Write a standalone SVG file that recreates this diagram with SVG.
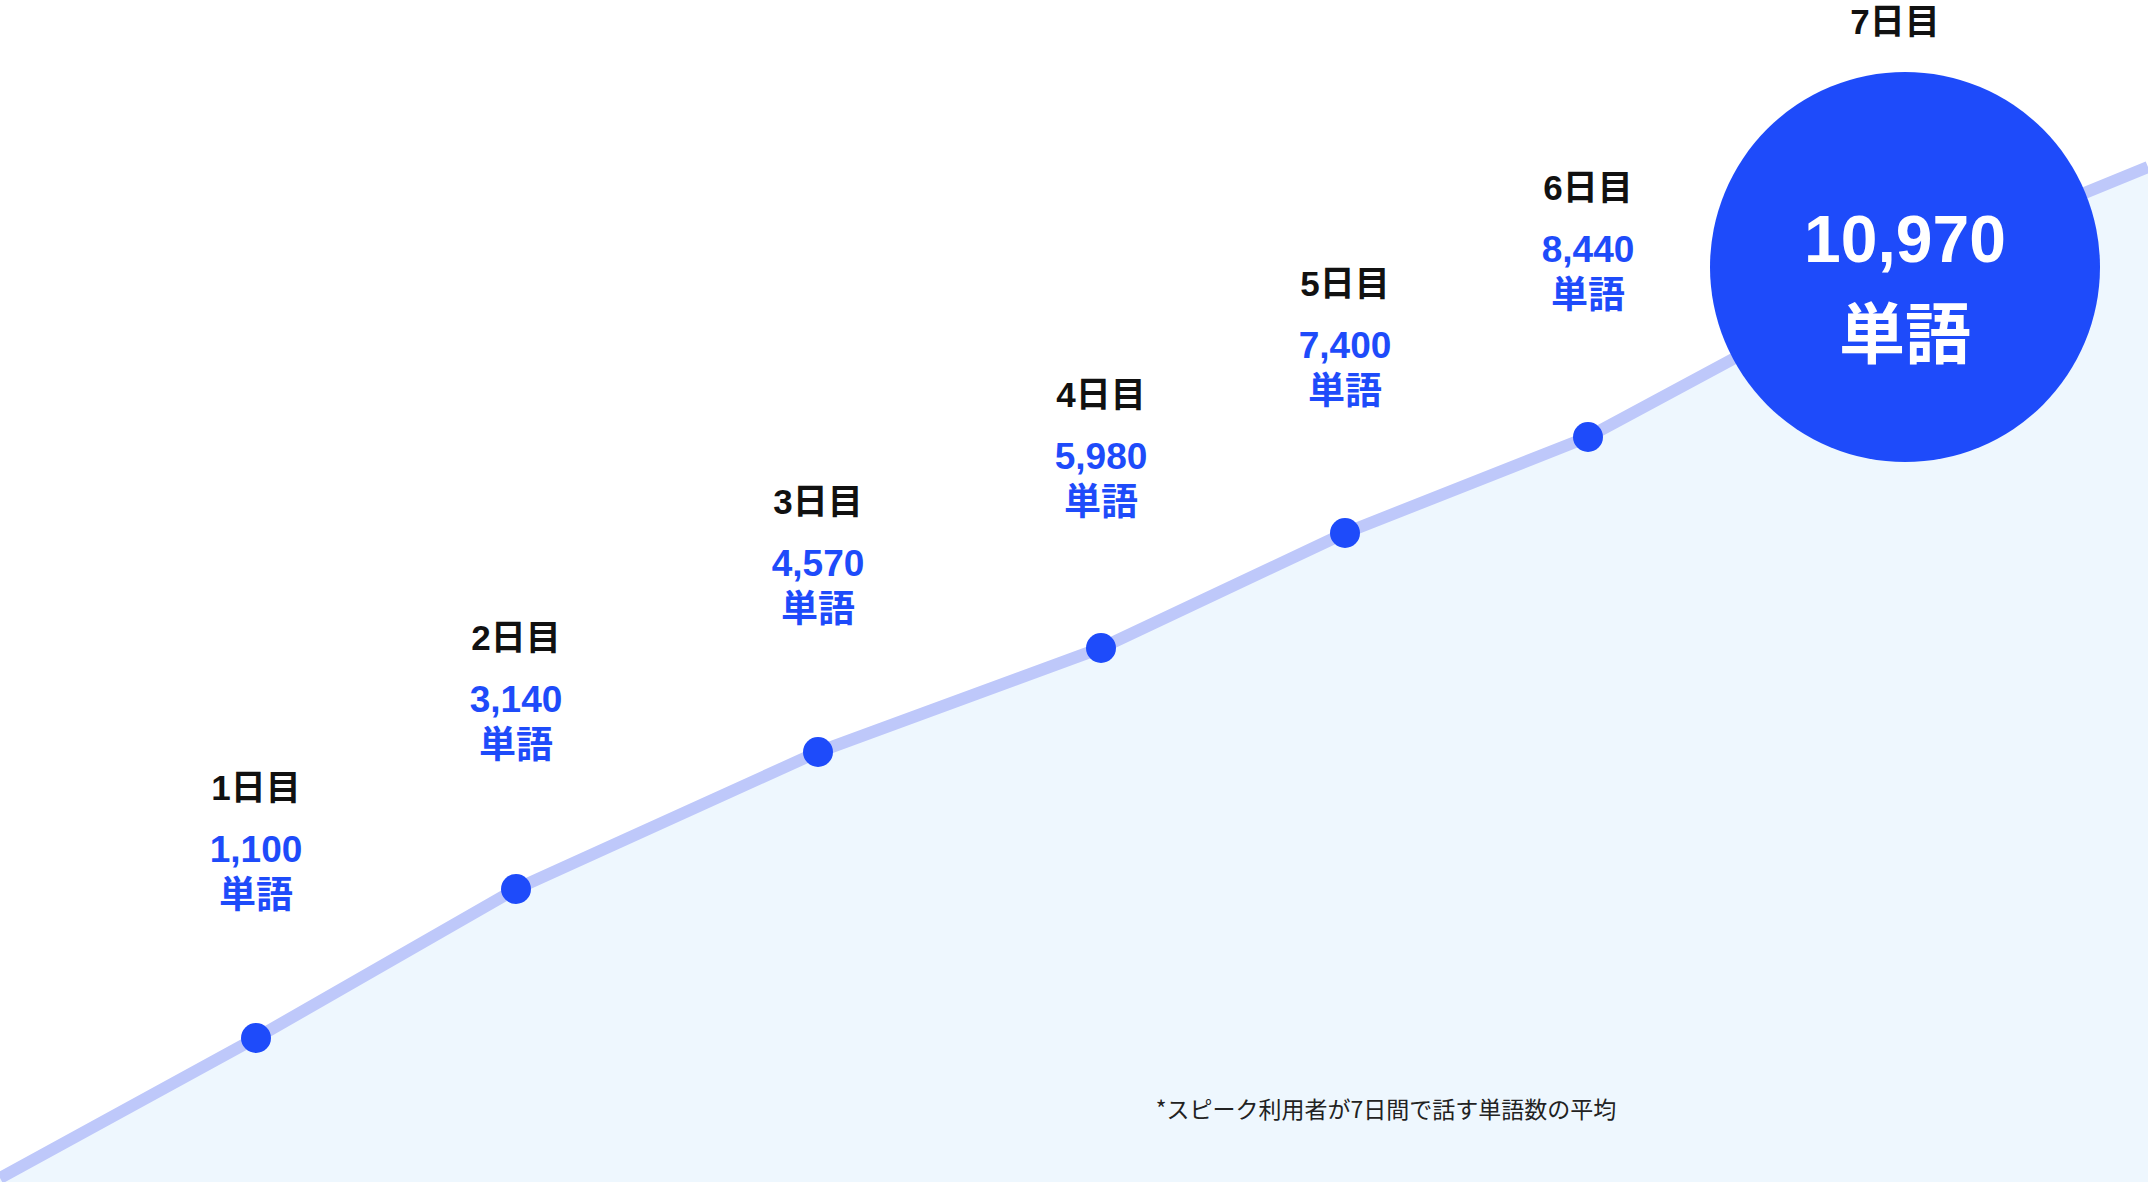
<svg xmlns="http://www.w3.org/2000/svg" width="2148" height="1182" viewBox="0 0 2148 1182">
<style>
.day{font-family:"Liberation Sans","Noto Sans CJK JP",sans-serif;font-weight:bold;font-size:35px;fill:#111;text-anchor:middle}
.num{font-family:"Liberation Sans","Noto Sans CJK JP",sans-serif;font-weight:bold;font-size:37px;fill:#1E4BFA;text-anchor:middle}
.big{font-family:"Liberation Sans","Noto Sans CJK JP",sans-serif;font-weight:bold;font-size:66px;fill:#fff;text-anchor:middle}
.dot{fill:#1E4BFA}
</style>
<rect width="2148" height="1182" fill="#fff"/>
<path d="M0,1178 L256,1038 L516,889 L818,752 L1101,648 L1345,533 L1588,437 L1904,267 L2148,167 L2148,1182 L0,1182 Z" fill="#EEF7FE"/>
<g id="connectors">
<polyline points="0,1178 256,1038 516,889 818,752 1101,648 1345,533 1588,437 1904,267 2148,167" fill="none" stroke="#BEC8FA" stroke-width="12" stroke-linejoin="round"/>
</g>
<g id="day1"><circle class="dot" cx="256" cy="1038" r="15"/><text class="day" x="256" y="800">1日目</text><text class="num" x="256" y="862">1,100</text><text class="num" x="256" y="908">単語</text></g>
<g id="day2"><circle class="dot" cx="516" cy="889" r="15"/><text class="day" x="516" y="650">2日目</text><text class="num" x="516" y="712">3,140</text><text class="num" x="516" y="758">単語</text></g>
<g id="day3"><circle class="dot" cx="818" cy="752" r="15"/><text class="day" x="818" y="514">3日目</text><text class="num" x="818" y="576">4,570</text><text class="num" x="818" y="622">単語</text></g>
<g id="day4"><circle class="dot" cx="1101" cy="648" r="15"/><text class="day" x="1101" y="407">4日目</text><text class="num" x="1101" y="469">5,980</text><text class="num" x="1101" y="515">単語</text></g>
<g id="day5"><circle class="dot" cx="1345" cy="533" r="15"/><text class="day" x="1345" y="296">5日目</text><text class="num" x="1345" y="358">7,400</text><text class="num" x="1345" y="404">単語</text></g>
<g id="day6"><circle class="dot" cx="1588" cy="437" r="15"/><text class="day" x="1588" y="200">6日目</text><text class="num" x="1588" y="262">8,440</text><text class="num" x="1588" y="308">単語</text></g>
<g id="day7"><text class="day" x="1895" y="34">7日目</text><circle class="dot" cx="1905" cy="267" r="195"/><text class="big" x="1905" y="262">10,970</text><text class="big" x="1905" y="358">単語</text></g>
<text x="1386" y="1118" font-family="'Noto Sans CJK JP',sans-serif" font-size="23" fill="#222" text-anchor="middle">*スピーク利用者が7日間で話す単語数の平均</text>
</svg>
